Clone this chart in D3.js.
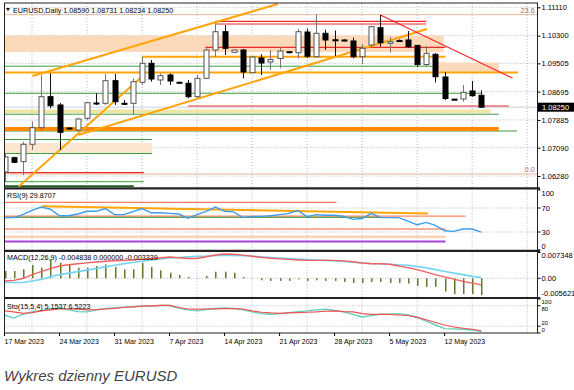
<!DOCTYPE html>
<html>
<head>
<meta charset="utf-8">
<script src="https://cdn.jsdelivr.net/npm/d3@7"></script>
<style>
body { margin: 0; background: #fff; }
text { font-family: "Liberation Sans", Arial, sans-serif; }
</style>
</head>
<body>
<div id="chart"></div>
<script>
// daily bars, 17 Mar 2023 .. 17 May 2023 (Sunday bars included)
var opens  = [1.06395,1.06804,1.06690,1.07188,1.07663,1.08551,1.08313,1.07654,1.07597,1.07932,1.08370,1.08361,1.09009,1.08361,1.08361,1.08963,1.09507,1.09029,1.09172,1.08963,1.08934,1.08551,1.09077,1.09887,1.10411,1.09822,1.09887,1.09238,1.09659,1.09544,1.09644,1.09839,1.09810,1.10403,1.09696,1.10366,1.10180,1.10174,1.10145,1.09696,1.10031,1.10526,1.10079,1.10159,1.10174,1.10020,1.09472,1.09764,1.09115,1.08480,1.08485,1.08714,1.08590];
var highs  = [1.06939,1.06833,1.07262,1.07835,1.09172,1.09220,1.08370,1.07670,1.07950,1.08407,1.08648,1.09200,1.09200,1.08456,1.09077,1.09696,1.09601,1.09220,1.09220,1.08980,1.09029,1.09172,1.09965,1.10652,1.10603,1.09900,1.09920,1.09716,1.09764,1.09887,1.09974,1.09860,1.10490,1.10503,1.10910,1.10470,1.10446,1.10190,1.10240,1.10060,1.10583,1.10890,1.10268,1.10190,1.10431,1.10031,1.10011,1.09800,1.09258,1.08490,1.08885,1.09000,1.08731];
var lows   = [1.06108,1.06644,1.06309,1.07025,1.07568,1.08218,1.07025,1.07610,1.07548,1.07883,1.08313,1.08313,1.08313,1.08313,1.08026,1.08885,1.08980,1.08885,1.08885,1.08940,1.08505,1.08505,1.09057,1.09696,1.09744,1.09800,1.09077,1.09230,1.09172,1.09315,1.09364,1.09790,1.09650,1.09659,1.09670,1.09887,1.09716,1.10130,1.09650,1.09478,1.09982,1.09982,1.09816,1.10130,1.09945,1.09400,1.09400,1.08957,1.08456,1.08460,1.08407,1.08550,1.08234];
var closes = [1.06824,1.06672,1.07188,1.07663,1.08551,1.08293,1.07531,1.07626,1.07912,1.08379,1.08353,1.09009,1.08407,1.08347,1.08980,1.09507,1.09057,1.09152,1.09000,1.08950,1.08551,1.09077,1.09887,1.10411,1.09936,1.09887,1.09258,1.09687,1.09515,1.09616,1.09859,1.09810,1.10411,1.09707,1.10366,1.10174,1.10168,1.10145,1.09696,1.09936,1.10555,1.10097,1.10125,1.10150,1.09982,1.09472,1.09793,1.09123,1.08499,1.08471,1.08676,1.08579,1.08250];

var rsi = [54,54,59,66,71.5,68,57,57,60,64.5,64.5,69,59,59,64,69,62,62,61,60,53,59,64.5,71.5,64.5,63.5,54,56,56,57,59,61,66,55.6,59,58,58,56,51,52.5,61,54,54,54,48,42,46,41,32,31,35,35,29.87];

// MACD in thousandths
var macdHist = [2.07,2.07,2.54,3.77,3.01,5.37,4.43,3.77,3.01,3.01,3.49,3.96,3.20,2.54,2.54,4.43,3.20,2.26,1.60,0.94,0.38,0.05,0.66,1.88,1.88,1.60,0.38,0.05,-0.57,-0.75,-0.75,-0.75,-0.28,-0.75,-0.57,-0.75,-0.75,-1.04,-1.32,-1.32,-1.04,-1.04,-1.32,-1.32,-1.51,-2.17,-2.45,-2.45,-3.77,-4.52,-4.52,-4.52,-4.84];
var macdRed = [-0.79,-0.59,-0.08,1.05,1.89,2.74,3.50,3.87,4.15,4.38,4.63,4.86,5.00,5.12,5.23,5.40,5.57,5.79,6.05,5.85,5.65,5.65,6.13,6.64,6.90,6.84,6.61,6.27,5.96,5.71,5.54,5.40,5.23,5.09,5.09,5.09,5.09,4.95,4.72,4.35,4.15,4.15,4.01,3.50,3.02,2.46,1.75,1.05,0.42,-0.25,-0.88,-1.38,-1.87];
var macdBlue = [-1.22,-1.22,-1.22,-0.79,-0.34,0.40,1.05,1.47,1.89,2.32,2.80,3.25,3.73,4.15,4.52,4.86,5.20,5.51,5.77,5.93,6.10,6.25,6.33,6.47,6.58,6.53,6.42,6.27,6.10,5.91,5.74,5.62,5.48,5.34,5.20,5.09,4.95,4.78,4.55,4.35,4.21,4.15,4.01,3.84,3.73,3.39,3.02,2.46,1.95,1.47,1.05,0.54,0.20];

var stochK = [53,44,55,62,66,70.6,74,68,63,62,68,72,74,76,77,79,79,81,81,73.5,68,65,69,72,74,72,68,62,57,55,57,60,63,65,68,70,66,62,55,47,51,55,55,57,53,46,35,23.5,13,12,11,9,5.15];
var stochD = [65,62,58,60,65,68,70.6,71,70,68,69,70.6,72.6,75,77,79,80,81,81,75,70.6,70,70.6,71,71.5,71.5,70.6,65,61,59,58,59,60,61,62,64,65,63,62,57,55,55,55,53,51.5,46,39,31,23.5,17.6,14,11,6.52];

var tickBars = [0,6,12,18,24,30,36,42,48];
var tickDates = ["17 Mar 2023","24 Mar 2023","31 Mar 2023","7 Apr 2023","14 Apr 2023","21 Apr 2023","28 Apr 2023","5 May 2023","12 May 2023"];
var priceTicks = [1.11110,1.10300,1.09505,1.08695,1.07885,1.07090,1.06280];

// drawn objects: [price, fromBar, toBar] / zones [hi, lo, fromBar, toBar]
var peachZones = [[1.10303,1.09830,-1,47.9],[1.09530,1.09258,46.8,53.9],[1.07225,1.06911,-1,16.1]];
var yellowZone = [1.08184,1.08084,-1,53];
var orangeLevels = [[1.09243,-1,56],[1.09693,15,48.1]];
var thickOrange = [1.07626,-1,53.9];
var greenLevels = [[1.09424,-1,47],[1.08648,-1,52.1],[1.08049,-1,53.9],[1.07568,-1,55.9],[1.07325,-1,16.1],[1.06924,-1,16.1],[1.06117,-1,15.2]];
var darkGreen = [1.05979,-1,14.1];
var redLevels = [[1.10709,23,46],[1.10632,23,46],[1.09965,21.9,48.1],[1.08284,20,55],[1.06374,-1,15.2]];
var fibLevels = [1.10900,1.06338];
var fibNames = ["23.6","0.0"];
var orangeTrends = [[3.05,1.09143,29.8,1.11204],[8.07,1.07454,46.1,1.10489],[1.53,1.05974,15.2,1.09172]];
var redTrend = [41.0,1.10890,55.4,1.09086];
var rsiLevels = [[79.5,-1,36.2],[56.5,-1,50.3],[54.5,-1,41],[35,-1,48.1],[23,-1,48.1],[20.5,-1,48.1],[14,-1,48.1]];
var rsiTrend = [4.1,73,46.2,61];
var lastPrice = 1.08250;

var width = 574, height = 390,
    left = 4.5, right = 537.5;

var svg = d3.select("#chart").append("svg")
    .attr("width", width).attr("height", height)
    .style("display", "block");

var x = d3.scaleLinear().domain([0, 52]).range([4.5, 481.3]);
var y = d3.scaleLinear().domain([1.0628, 1.1111]).range([176, 7.3]);
var yRsi = d3.scaleLinear().domain([0, 100]).range([250, 190]);
var yMacd = d3.scaleLinear().domain([-5.621, 7.348]).range([298, 252.5]);
var ySto = d3.scaleLinear().domain([0, 100]).range([333, 299]);

var panes = [
  {name: "main", top: 3, bottom: 187},
  {name: "rsi", top: 189.5, bottom: 250.5},
  {name: "macd", top: 251.5, bottom: 297.5},
  {name: "sto", top: 298.5, bottom: 333}
];

var defs = svg.append("defs");
panes.forEach(function(p) {
  defs.append("clipPath").attr("id", "clip-" + p.name)
    .append("rect").attr("x", left).attr("y", p.top)
    .attr("width", right - left).attr("height", p.bottom - p.top);
});

function layer(name) {
  return svg.append("g").attr("clip-path", "url(#clip-" + name + ")");
}

var gridColor = "#9aa3ad";

function hline(g, scale, v, from, to, color, w, dash) {
  g.append("line").attr("x1", x(from)).attr("x2", x(to))
    .attr("y1", scale(v)).attr("y2", scale(v))
    .attr("stroke", color).attr("stroke-width", w)
    .attr("stroke-dasharray", dash || null);
}

// vertical grid in every pane
panes.forEach(function(p) {
  var g = layer(p.name);
  for (var b = 3; b < 60; b += 6) {
    g.append("line").attr("x1", x(b)).attr("x2", x(b))
      .attr("y1", p.top).attr("y2", p.bottom)
      .attr("stroke", gridColor).attr("stroke-width", 0.8)
      .attr("stroke-dasharray", "1,2");
  }
});

// ---------- main pane ----------
var main = layer("main");

priceTicks.forEach(function(v) { hline(main, y, v, -1, 60, gridColor, 0.8, "1,2"); });

var peachColors = ["#fcd9b9", "#fcd9b9", "#fde6d0"];
peachZones.forEach(function(z, i) {
  main.append("rect").attr("x", x(z[2])).attr("width", x(z[3]) - x(z[2]))
    .attr("y", y(z[0])).attr("height", y(z[1]) - y(z[0]))
    .attr("fill", peachColors[i]);
});
main.append("rect").attr("x", x(yellowZone[2])).attr("width", x(yellowZone[3]) - x(yellowZone[2]))
  .attr("y", y(yellowZone[0])).attr("height", y(yellowZone[1]) - y(yellowZone[0]))
  .attr("fill", "#efe6a6");

fibLevels.forEach(function(v, i) {
  hline(main, y, v, -1, 60, "#e4b69a", 1);
  main.append("text").attr("x", 535).attr("y", y(v) - 2)
    .attr("text-anchor", "end").attr("font-size", 7.5)
    .attr("fill", "#b07050").text(fibNames[i]);
});

// bid line
hline(main, y, lastPrice, -1, 60, "#c5d3e3", 1);

greenLevels.forEach(function(l) { hline(main, y, l[0], l[1], l[2], "#3d9c3d", 1); });
hline(main, y, darkGreen[0], darkGreen[1], darkGreen[2], "#1f5e1f", 2.5);
redLevels.forEach(function(l) { hline(main, y, l[0], l[1], l[2], "#f02828", 1.2); });
orangeLevels.forEach(function(l) { hline(main, y, l[0], l[1], l[2], "#ffa50a", 2); });
hline(main, y, thickOrange[0], thickOrange[1], thickOrange[2], "#ff8a00", 4);

orangeTrends.forEach(function(t) {
  main.append("line").attr("x1", x(t[0])).attr("y1", y(t[1]))
    .attr("x2", x(t[2])).attr("y2", y(t[3]))
    .attr("stroke", "#ffa50a").attr("stroke-width", 2);
});
main.append("line").attr("x1", x(redTrend[0])).attr("y1", y(redTrend[1]))
  .attr("x2", x(redTrend[2])).attr("y2", y(redTrend[3]))
  .attr("stroke", "#f02828").attr("stroke-width", 1.2);

// candles
var bars = d3.range(opens.length);
main.selectAll("line.wick").data(bars).enter().append("line")
  .attr("class", "wick")
  .attr("x1", function(i) { return Math.round(x(i)) + 0.5; })
  .attr("x2", function(i) { return Math.round(x(i)) + 0.5; })
  .attr("y1", function(i) { return y(highs[i]); })
  .attr("y2", function(i) { return y(lows[i]); })
  .attr("stroke", function(i) { return closes[i] >= opens[i] ? "#777" : "#111"; })
  .attr("stroke-width", 1);

main.selectAll("rect.body").data(bars).enter().append("rect")
  .attr("class", "body")
  .attr("x", function(i) { return Math.round(x(i)) - 2; })
  .attr("width", 5)
  .attr("y", function(i) { return y(Math.max(opens[i], closes[i])); })
  .attr("height", function(i) { return Math.max(1, Math.abs(y(opens[i]) - y(closes[i]))); })
  .attr("fill", function(i) { return closes[i] >= opens[i] ? "#fff" : "#000"; })
  .attr("stroke", function(i) { return closes[i] >= opens[i] ? "#555" : "#000"; })
  .attr("stroke-width", 1);

// header
svg.append("path").attr("d", "M6,8 L10,8 L8,11 Z").attr("fill", "#000");
svg.append("text").attr("x", 13).attr("y", 12.5).attr("font-size", 7.2)
  .attr("fill", "#000").text("EURUSD,Daily  1.08590 1.08731 1.08234 1.08250");

// price axis
var axisG = svg.append("g").attr("transform", "translate(" + right + ",0)")
  .call(d3.axisRight(y).tickValues(priceTicks).tickFormat(d3.format(".5f")).tickSize(3));
axisG.select(".domain").remove();
axisG.selectAll("line").attr("stroke", "#000");
axisG.selectAll("text").attr("font-size", 7.5).attr("fill", "#000").attr("x", 4)
  .attr("font-family", "Liberation Sans, Arial, sans-serif");

svg.append("rect").attr("x", 538).attr("y", y(lastPrice) - 4.5)
  .attr("width", 36).attr("height", 9).attr("fill", "#000");
svg.append("text").attr("x", 542).attr("y", y(lastPrice) + 3)
  .attr("font-size", 7.5).attr("fill", "#fff").text("1.08250");

// ---------- RSI ----------
var rsiG = layer("rsi");
[70, 30].forEach(function(v) { hline(rsiG, yRsi, v, -1, 60, gridColor, 0.8, "1,2"); });
var rsiColors = ["#ff5a36", "#ff6a3a", "#2f8f2f", "#ff5a36", "#ffb49a", "#f3d2a8", "#a646de"];
var rsiWidths = [1, 1, 1, 1, 1, 1, 2];
rsiLevels.forEach(function(l, i) { hline(rsiG, yRsi, l[0], l[1], l[2], rsiColors[i], rsiWidths[i]); });
rsiG.append("line").attr("x1", x(rsiTrend[0])).attr("y1", yRsi(rsiTrend[1]))
  .attr("x2", x(rsiTrend[2])).attr("y2", yRsi(rsiTrend[3]))
  .attr("stroke", "#ffa50a").attr("stroke-width", 2);
rsiG.append("path").datum(rsi)
  .attr("d", d3.line().x(function(d, i) { return x(i); }).y(function(d) { return yRsi(d); }))
  .attr("fill", "none").attr("stroke", "#3d9cf0").attr("stroke-width", 1.4);
svg.append("text").attr("x", 7).attr("y", 198).attr("font-size", 7.2).text("RSI(9) 29.8707");

// ---------- MACD ----------
var macdG = layer("macd");
hline(macdG, yMacd, 0, -1, 60, gridColor, 0.8, "1,2");
macdG.selectAll("rect.hist").data(macdHist).enter().append("rect")
  .attr("class", "hist")
  .attr("x", function(d, i) { return Math.round(x(i)); })
  .attr("width", 1.5)
  .attr("y", function(d) { return Math.min(yMacd(d), yMacd(0)); })
  .attr("height", function(d) { return Math.abs(yMacd(d) - yMacd(0)); })
  .attr("fill", "#5e7a2a");
var macdLine = d3.line().x(function(d, i) { return x(i); }).y(function(d) { return yMacd(d); });
macdG.append("path").datum(macdBlue).attr("d", macdLine)
  .attr("fill", "none").attr("stroke", "#74d4f4").attr("stroke-width", 1.6);
macdG.append("path").datum(macdRed).attr("d", macdLine)
  .attr("fill", "none").attr("stroke", "#f26060").attr("stroke-width", 1.4);
svg.append("text").attr("x", 7).attr("y", 260).attr("font-size", 7.2)
  .text("MACD(12,26,9) -0.004838 0.000000 -0.003339");

// ---------- Stochastic ----------
var stoG = layer("sto");
[80, 20].forEach(function(v) { hline(stoG, ySto, v, -1, 60, gridColor, 0.8, "1,2"); });
var stoLine = d3.line().x(function(d, i) { return x(i); }).y(function(d) { return ySto(d); });
stoG.append("path").datum(stochK).attr("d", stoLine)
  .attr("fill", "none").attr("stroke", "#5fd0bd").attr("stroke-width", 1.4);
stoG.append("path").datum(stochD).attr("d", stoLine)
  .attr("fill", "none").attr("stroke", "#f05050").attr("stroke-width", 1.2);
svg.append("text").attr("x", 7).attr("y", 309).attr("font-size", 7.2)
  .text("Sto(15,5,4) 5.1537 6.5223");

// indicator axis labels; labelY overrides the scale position where labels would collide
function paneLabels(values, labels, scale, pane, size, labelY) {
  values.forEach(function(v, i) {
    var py = labelY ? labelY[i] : Math.max(pane.top + 4, Math.min(pane.bottom - 4, scale(v)));
    svg.append("line").attr("x1", right).attr("x2", right + 3)
      .attr("y1", scale(v)).attr("y2", scale(v)).attr("stroke", "#000");
    svg.append("text").attr("x", right + 4).attr("y", py + size * 0.35)
      .attr("font-size", size).text(labels[i]);
  });
}
paneLabels([100, 70, 30, 0], ["100", "70", "30", "0"], yRsi, panes[1], 7.5);
paneLabels([7.348, 0, -5.621], ["0.007348", "0.00", "-0.005621"], yMacd, panes[2], 7.5);
paneLabels([100, 80, 20, 0], ["100", "80", "20", "0"], ySto, panes[3], 6, [302, 309, 322.5, 329.5]);

// frames and pane separators
svg.append("rect").attr("x", left).attr("y", 3).attr("width", right - left).attr("height", 330)
  .attr("fill", "none").attr("stroke", "#222").attr("stroke-width", 1);
[188.3, 250.9, 298].forEach(function(sy) {
  svg.append("line").attr("x1", left).attr("x2", 540).attr("y1", sy).attr("y2", sy)
    .attr("stroke", "#222").attr("stroke-width", 2.2);
});

// date axis
tickBars.forEach(function(b, i) {
  svg.append("line").attr("x1", x(b)).attr("x2", x(b)).attr("y1", 333).attr("y2", 336)
    .attr("stroke", "#000");
  svg.append("text").attr("x", x(b)).attr("y", 343.5).attr("font-size", 7)
    .text(tickDates[i]);
});

// caption
svg.append("text").attr("x", 4).attr("y", 381)
  .attr("font-family", "'Open Sans', sans-serif").attr("font-style", "italic")
  .attr("font-size", 15).attr("fill", "#444").text("Wykres dzienny EURUSD");
</script>
</body>
</html>
